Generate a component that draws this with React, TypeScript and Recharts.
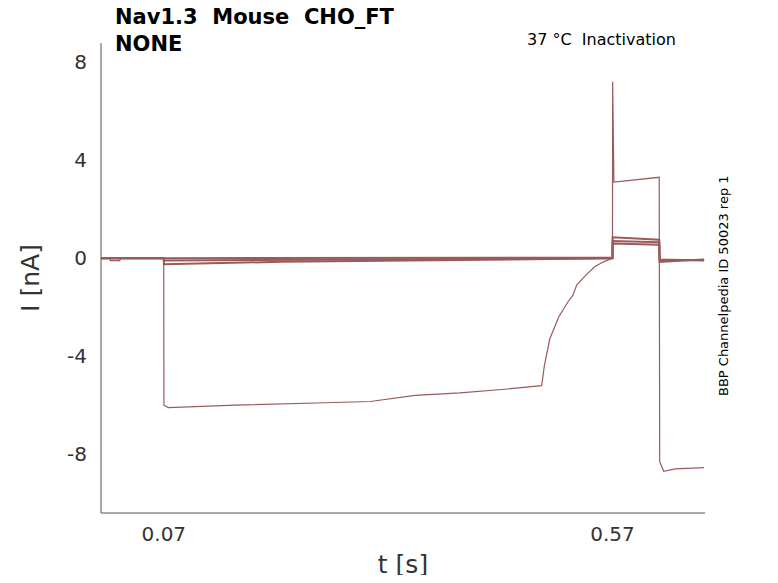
import { LineChart, Line, XAxis, YAxis, Label } from "recharts";

const xTicks = [0.07, 0.57];
const yTicks = [-8, -4, 0, 4, 8];

type Pt = { t: number; i: number };
const mk = (a: number[][]): Pt[] => a.map(([t, i]) => ({ t, i }));

const trace1 = mk([
  [0, 0], [0.01, 0], [0.0105, -0.1], [0.021, -0.1], [0.0215, 0], [0.0699, 0],
  [0.0701, -6.0], [0.075, -6.1], [0.15, -6.0], [0.25, -5.9], [0.3, -5.85], [0.35, -5.6],
  [0.4, -5.5], [0.45, -5.35], [0.491, -5.2], [0.494, -4.4], [0.5, -3.3], [0.51, -2.4],
  [0.52, -1.8], [0.526, -1.5], [0.53, -1.1], [0.54, -0.7], [0.55, -0.35], [0.56, -0.15],
  [0.5699, 0], [0.5701, 7.2], [0.5715, 3.1], [0.622, 3.3], [0.6225, -8.3], [0.627, -8.7],
  [0.64, -8.6], [0.672, -8.55],
]);
const trace2 = mk([
  [0, 0], [0.0699, 0], [0.0701, -0.25], [0.2, -0.15], [0.4, -0.08], [0.5699, 0],
  [0.5701, 0.85], [0.622, 0.75], [0.6225, -0.15], [0.672, -0.05],
]);
const trace3 = mk([
  [0, 0], [0.0699, 0], [0.0701, -0.1], [0.3, -0.05], [0.5699, 0],
  [0.5701, 0.6], [0.622, 0.55], [0.6225, -0.1], [0.672, -0.08],
]);
const trace4 = mk([
  [0, 0], [0.0699, 0], [0.0701, 0], [0.5699, 0.02],
  [0.5701, 0.7], [0.622, 0.65], [0.6225, -0.05], [0.672, -0.1],
]);
const traces = [trace1, trace2, trace3, trace4];

const color = "#9a5a5a";

export default function App() {
  return (
    <div style={{ position: "relative", width: 770, height: 567, fontFamily: "DejaVu Sans" }}>
      <LineChart width={770} height={567} margin={{ top: 35, right: 73, bottom: 0, left: 0 }}>
        <XAxis
          type="number"
          dataKey="t"
          domain={[0, 0.673]}
          ticks={xTicks}
          allowDuplicatedCategory={false}
          tick={{ fontSize: 20, fill: "#333", dy: 6 }}
          tickLine={false}
          stroke="#555"
          height={62}
        >
          <Label value="t [s]" position="insideBottom" offset={2} style={{ fontSize: 25, fill: "#333" }} />
        </XAxis>
        <YAxis
          type="number"
          dataKey="i"
          domain={[-10.4, 8.78]}
          ticks={yTicks}
          tick={{ fontSize: 20, fill: "#333", dx: -6 }}
          tickLine={false}
          stroke="#555"
          width={93}
        >
          <Label value="I [nA]" angle={-90} position="insideLeft" offset={22} style={{ fontSize: 25, fill: "#333", textAnchor: "middle" }} />
        </YAxis>
        {traces.map((d, k) => (
          <Line
            key={k}
            data={d}
            dataKey="i"
            type="linear"
            stroke={color}
            strokeWidth={k === 0 ? 1.2 : 2}
            dot={false}
            isAnimationActive={false}
          />
        ))}
      </LineChart>
      <div style={{ position: "absolute", left: 107, top: -4, fontSize: 21, fontWeight: "bold", lineHeight: "27px", color: "#000" }}>
        Nav1.3&nbsp; Mouse&nbsp; CHO_FT<br />NONE
      </div>
      <div style={{ position: "absolute", left: 519, top: 22, fontSize: 16, color: "#000" }}>37 °C&nbsp; Inactivation</div>
      <div
        style={{
          position: "absolute", left: 708, top: 388, fontSize: 13, color: "#000",
          transform: "rotate(-90deg)", transformOrigin: "0 0", whiteSpace: "nowrap",
        }}
      >
        BBP Channelpedia ID 50023 rep 1
      </div>
    </div>
  );
}
